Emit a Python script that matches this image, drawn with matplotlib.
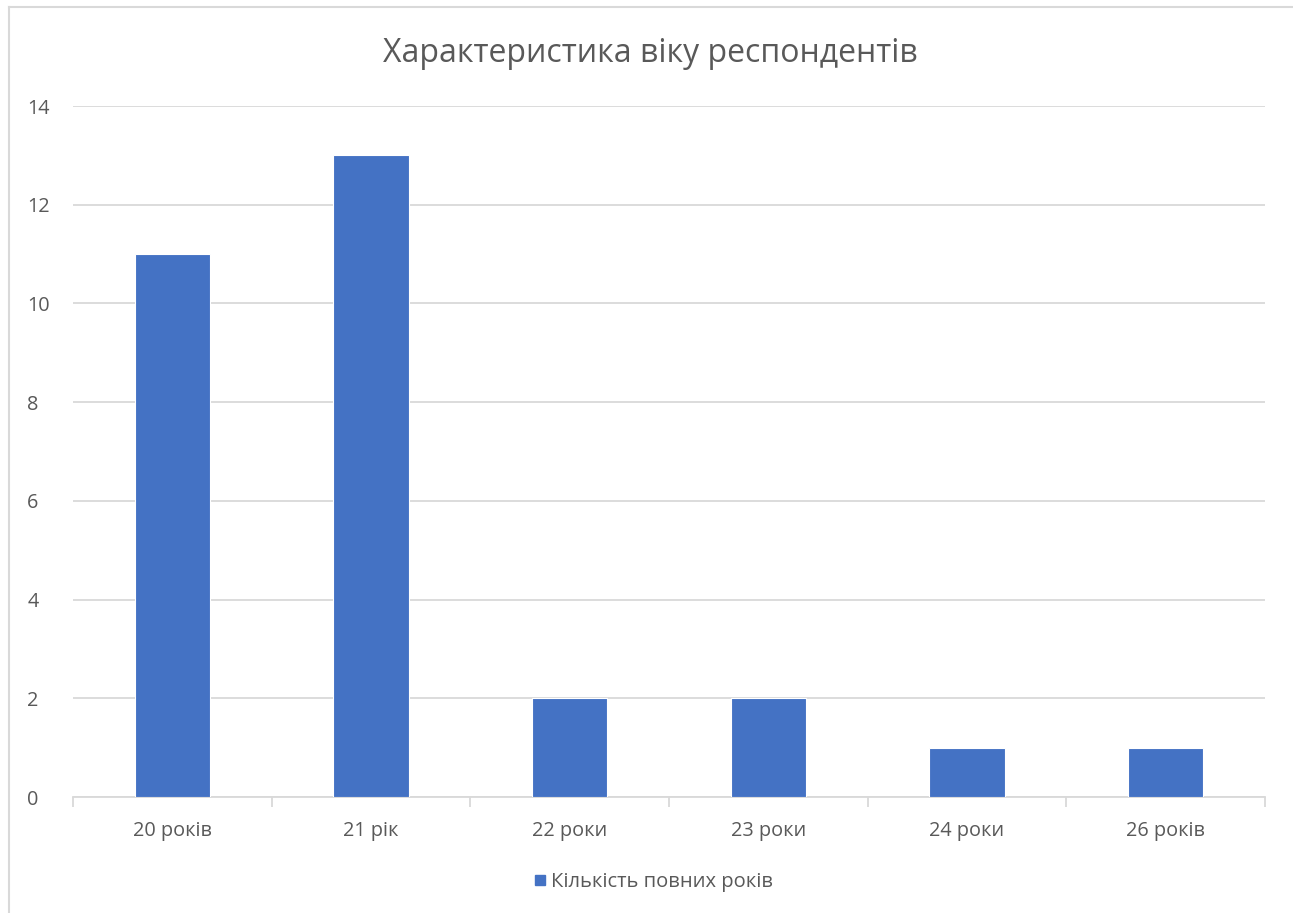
import matplotlib.pyplot as plt
from matplotlib.lines import Line2D

categories = ['20 років', '21 рік', '22 роки', '23 роки', '24 роки', '26 років']
counts = [11, 13, 2, 2, 1, 1]
series_name = 'Кількість повних років'
title = 'Характеристика віку респондентів'

plt.rcParams['font.family'] = ['Open Sans', 'DejaVu Sans']
text_col = '#595959'
grid_col = '#D9D9D9'
bar_col = '#4472C4'

fig = plt.figure(figsize=(12.93, 9.13), dpi=100)
ax = fig.add_axes([73 / 1293, 1 - 797 / 913, 1192 / 1293, 691 / 913])

x = range(len(categories))
ax.bar(x, counts, width=0.38, color=bar_col, edgecolor='white', linewidth=0.8,
       label=series_name, zorder=3)

ax.set_xlim(-0.5, len(categories) - 0.5)
ax.set_ylim(0, 14)
ax.set_yticks(range(0, 15, 2))
ax.yaxis.grid(True, color=grid_col, linewidth=1.3, zorder=0)
ax.set_axisbelow(True)

for s in ['top', 'right', 'left']:
    ax.spines[s].set_visible(False)
ax.spines['bottom'].set_color(grid_col)
ax.spines['bottom'].set_linewidth(1.3)

ax.set_xticks(list(x))
ax.set_xticklabels(categories)
ax.set_xticks([i - 0.5 for i in range(len(categories) + 1)], minor=True)
ax.tick_params(axis='x', which='major', length=0, pad=17, labelsize=14.3, labelcolor=text_col)
ax.tick_params(axis='x', which='minor', length=7, width=1.3, color=grid_col)
ax.tick_params(axis='y', length=0, pad=33, labelsize=14.3, labelcolor=text_col)
for lab in ax.get_yticklabels():
    lab.set_horizontalalignment('left')

fig.text(650 / 1293, 1 - 53 / 913, title, ha='center', va='center', fontsize=23, color=text_col)

handle = Line2D([], [], marker='s', linestyle='', color=bar_col, markersize=7.5)
fig.legend([handle], [series_name], loc='center', bbox_to_anchor=(653 / 1293, 1 - 882 / 913),
           frameon=False, fontsize=14.5, labelcolor=text_col, handletextpad=0.2,
           handlelength=0.7)

# chart frame
fig.add_artist(Line2D([9 / 1293, 9 / 1293], [0, 1 - 7 / 913], color=grid_col, linewidth=1.5,
                      transform=fig.transFigure))
fig.add_artist(Line2D([9 / 1293, 1], [1 - 7 / 913, 1 - 7 / 913], color=grid_col, linewidth=1.5,
                      transform=fig.transFigure))

fig.savefig('out.png', dpi=100)
